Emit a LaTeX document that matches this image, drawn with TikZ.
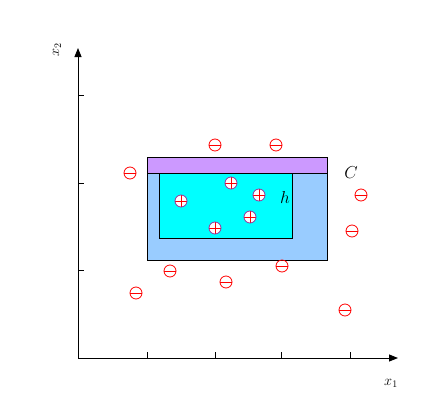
\documentclass[tikz,border=0pt]{standalone}
\usepackage{tikz}
\usetikzlibrary{arrows.meta}
\definecolor{outerblau}{HTML}{99CCFF}
\definecolor{bandlila}{HTML}{CC99FF}
\definecolor{innencyan}{HTML}{00FFFF}
\definecolor{randlila}{HTML}{993399}

\tikzset{
  posmark/.style={circle, draw=randlila, fill=white, line width=0.8pt, inner sep=0pt, minimum size=12pt,
    path picture={\draw[red, line width=0.7pt] (path picture bounding box.west) -- (path picture bounding box.east)
      (path picture bounding box.north) -- (path picture bounding box.south);}},
  negmark/.style={circle, draw=red, line width=0.8pt, inner sep=0pt, minimum size=12pt,
    path picture={\draw[red, line width=0.7pt] (path picture bounding box.west) -- (path picture bounding box.east);}},
  achse/.style={line width=0.9pt, -{Triangle[length=9pt, width=7pt]}}
}

\begin{document}
\begin{tikzpicture}[x=1pt, y=-1pt]
    \useasboundingbox (0,0) rectangle (429,413);

    % --- BEREICHE ---
    \draw[fill=outerblau, line width=0.8pt] (147,157) rectangle (327,260);
    \draw[fill=bandlila, line width=0.8pt] (147,157) rectangle (327,173);
    \draw[fill=innencyan, line width=0.8pt] (159,173) rectangle (292,238);
    \node[font=\LARGE] (labC) at (351,173) {$C$};
    \node[font=\LARGE] (labh) at (285,197) {$h$};

    % --- ACHSEN ---
    \coordinate (O) at (78,358);
    \coordinate (xend) at (398,358);
    \coordinate (yend) at (78,48);
    \draw[achse] (O) -- (xend);
    \draw[achse] (O) -- (yend);
    \foreach \x in {147,215,281,350}
        \draw[line width=0.7pt] (\x,358) -- (\x,352);
    \foreach \y in {95,183,270}
        \draw[line width=0.7pt] (78,\y) -- (84,\y);
    \node[font=\Large] (labx) at (391,383) {$x_1$};
    \node[font=\Large, rotate=90] (laby) at (57,50) {$x_2$};

    % --- PUNKTE ---
    \foreach \px/\py [count=\i] in {181/201, 231/183, 259/195, 250/217, 215/228}
        \node[posmark] (p\i) at (\px,\py) {};
    \foreach \px/\py [count=\i] in {215/145, 276/145, 130/173, 361/195, 352/231,
                                    170/271, 226/282, 282/266, 136/293, 345/310}
        \node[negmark] (n\i) at (\px,\py) {};

\end{tikzpicture}
\end{document}
